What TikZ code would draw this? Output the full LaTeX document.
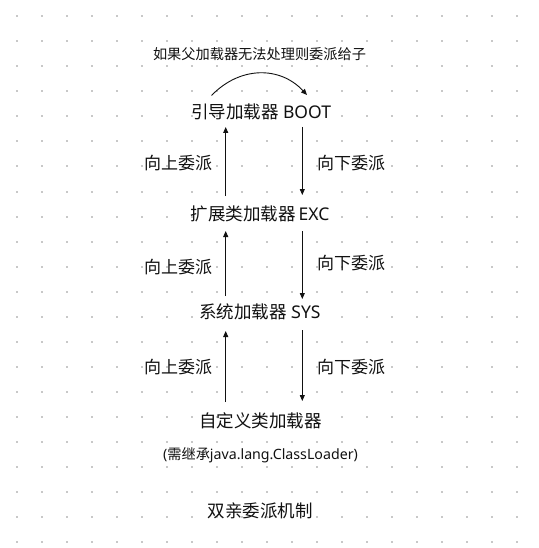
\documentclass[tikz,border=0pt]{standalone}
\usepackage{fontspec}
\setmainfont{Noto Sans}
\newfontfamily\cjk{Noto Sans CJK SC}
\usetikzlibrary{arrows.meta}
\definecolor{dotgray}{HTML}{C8C8C8}
\definecolor{ink}{HTML}{111111}
\tikzset{
  bigtxt/.style={inner sep=0pt, text=ink, font=\fontsize{17.5}{20}\selectfont},
  lbltxt/.style={inner sep=0pt, text=ink, font=\cjk\fontsize{17}{20}\selectfont},
  smalltxt/.style={inner sep=0pt, text=ink, font=\fontsize{14.2}{16}\selectfont},
  conn/.style={draw=ink, line width=0.9pt, -{Triangle[length=6pt,width=5pt]}}
}
\begin{document}
\begin{tikzpicture}[x=1pt,y=-1pt]
\useasboundingbox (0,0) rectangle (538,548);
\fill[white] (0,0) rectangle (538,548);
% dotted grid
\foreach \i in {0,...,20}{
  \foreach \j in {0,...,21}{
    \fill[dotgray] ({16.5+25*\i-1},{16.5+25*\j-1}) rectangle ++(2,2);
  }
}
% texts
\node[smalltxt] (note) at (259.5,54) {\cjk 如果父加载器无法处理则委派给子};
\node[bigtxt] (boot) at (261,112) {{\cjk 引导加载器} BOOT};
\node[bigtxt] (exc) at (260,214) {{\cjk 扩展类加载器}\,EXC};
\node[bigtxt] (sys) at (260,312) {{\cjk 系统加载器} SYS};
\node[bigtxt] (cus) at (260.5,421) {\cjk 自定义类加载器};
\node[smalltxt] (hint) at (260.5,455) {({\cjk 需继承}java.lang.ClassLoader)};
\node[bigtxt] (title) at (260,511) {\cjk 双亲委派机制};
\node[lbltxt] (up1) at (178,163) {向上委派};
\node[lbltxt] (dn1) at (351,163) {向下委派};
\node[lbltxt] (up2) at (178,267) {向上委派};
\node[lbltxt] (dn2) at (351,263) {向下委派};
\node[lbltxt] (up3) at (178,367) {向上委派};
\node[lbltxt] (dn3) at (351,367) {向下委派};
% arrow end points
\coordinate (a1s) at (225.7,196);
\coordinate (a1e) at (225.7,127);
\coordinate (b1s) at (302.3,127);
\coordinate (b1e) at (302.3,195);
\coordinate (a2s) at (225.7,296);
\coordinate (a2e) at (225.7,231);
\coordinate (b2s) at (302.3,231);
\coordinate (b2e) at (302.3,299);
\coordinate (a3s) at (225.7,402);
\coordinate (a3e) at (225.7,331);
\coordinate (b3s) at (302.3,330);
\coordinate (b3e) at (302.3,401);
\coordinate (cs) at (211.5,95.5);
\coordinate (ce) at (307,95);
\draw[conn] (a1s) -- (a1e);
\draw[conn] (b1s) -- (b1e);
\draw[conn] (a2s) -- (a2e);
\draw[conn] (b2s) -- (b2e);
\draw[conn] (a3s) -- (a3e);
\draw[conn] (b3s) -- (b3e);
\draw[conn] (cs) .. controls (240,66) and (280,66) .. (ce);
\end{tikzpicture}
\end{document}
